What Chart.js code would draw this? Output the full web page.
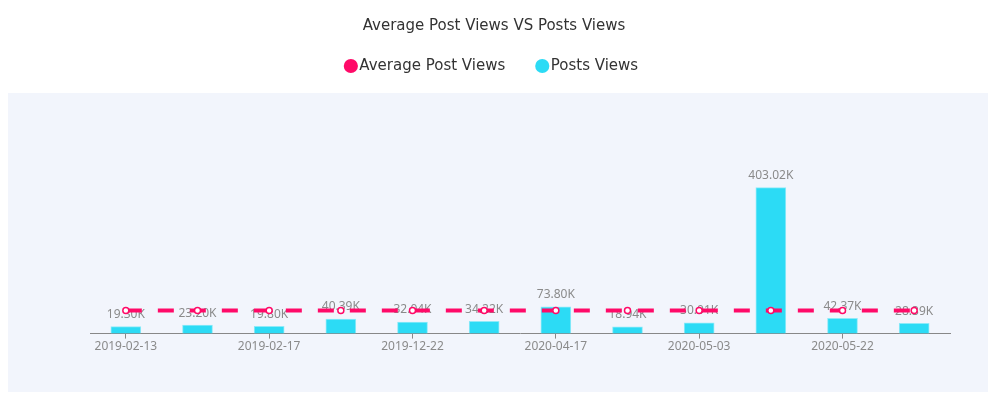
<!DOCTYPE html>
<html>
<head>
<meta charset="utf-8">
<script src="https://cdn.jsdelivr.net/npm/chart.js@4/dist/chart.umd.min.js"></script>
<style>
  body { margin: 0; background: #fff; }
  #wrap { position: relative; width: 996px; height: 398px; }
  #panel { position: absolute; left: 8px; top: 93px; width: 980px; height: 299px; background: #f2f5fc; }
  #myChart { position: absolute; left: 0; top: 0; }
</style>
</head>
<body>
<div id="wrap">
  <div id="panel"></div>
  <canvas id="myChart" width="996" height="398"></canvas>
</div>
<script>
// data
var dates = ['2019-02-13', '2019-02-14', '2019-02-17', '2019-02-25', '2019-12-22', '2020-01-05',
             '2020-04-17', '2020-04-26', '2020-05-03', '2020-05-10', '2020-05-22', '2020-05-28'];
var postViews = [19300, 23200, 19800, 40390, 32040, 34220, 73800, 18940, 30010, 403020, 42370, 28390];
var avgViews = [63790, 63790, 63790, 63790, 63790, 63790, 63790, 63790, 63790, 63790, 63790, 63790];

var pink = '#ff0a68';
var cyan = '#2cdbf5';

// value labels above the bars
var barLabels = {
  id: 'barLabels',
  afterDatasetDraw: function(chart, args) {
    if (args.index !== 1) return;
    var ctx = chart.ctx;
    ctx.save();
    ctx.font = '12px "Noto Sans"';
    ctx.fillStyle = '#8a8a8a';
    ctx.textAlign = 'center';
    ctx.textBaseline = 'middle';
    args.meta.data.forEach(function(bar, i) {
      ctx.fillText((postViews[i] / 1000).toFixed(2) + 'K', bar.x, bar.y - 12);
    });
    ctx.restore();
  }
};

// invisible axes only used to hold the plot margins
var hiddenAxis = {
  display: true,
  ticks: { display: false },
  grid: { display: false },
  border: { display: false }
};

document.addEventListener('DOMContentLoaded', function() {
  var ctx = document.getElementById('myChart').getContext('2d');
  new Chart(ctx, {
    type: 'bar',
    data: {
      labels: dates,
      datasets: [{
        type: 'line',
        label: 'Average Post Views',
        data: avgViews,
        borderColor: pink,
        backgroundColor: pink,
        borderWidth: 4,
        borderDash: [16, 16],
        pointRadius: 3,
        pointBackgroundColor: '#fff',
        pointBorderColor: pink,
        pointBorderWidth: 1.5,
        fill: false
      }, {
        label: 'Posts Views',
        data: postViews,
        backgroundColor: cyan,
        borderColor: '#8eeaf8',
        borderWidth: 1,
        barThickness: 30
      }]
    },
    plugins: [barLabels],
    options: {
      responsive: false,
      animation: false,
      layout: { padding: { left: 0, right: 8, bottom: 43 } },
      plugins: {
        title: {
          display: true,
          text: 'Average Post Views VS Posts Views',
          color: '#333',
          font: { family: 'DejaVu Sans', size: 15, weight: 'normal' },
          padding: { top: 17, bottom: -12.5 }
        },
        legend: {
          labels: {
            usePointStyle: true,
            pointStyle: 'circle',
            boxHeight: 10,
            boxWidth: 2,
            padding: 36,
            color: '#333',
            font: { family: 'DejaVu Sans', size: 15 },
            generateLabels: function(chart) {
              var items = Chart.defaults.plugins.legend.labels.generateLabels(chart);
              items.forEach(function(it) {
                var c = it.datasetIndex === 0 ? pink : cyan;
                it.fillStyle = c;
                it.strokeStyle = c;
                it.lineWidth = 0;
                it.lineDash = [];
              });
              return items;
            }
          }
        },
        tooltip: { enabled: false }
      },
      scales: {
        x: {
          grid: { display: true, drawOnChartArea: false, offset: false, tickLength: 5, color: '#888' },
          border: { display: true, color: '#888' },
          ticks: {
            autoSkip: false,
            maxRotation: 0,
            padding: 1,
            color: '#8a8a8a',
            font: { family: 'Noto Sans', size: 12 },
            callback: function(v, i) { return i % 2 === 0 ? dates[i] : null; }
          }
        },
        y: Object.assign({}, hiddenAxis, {
          min: 0,
          max: 690600,
          afterFit: function(s) { s.width = 90; }
        }),
        y2: Object.assign({}, hiddenAxis, {
          position: 'right',
          afterFit: function(s) { s.width = 38; }
        })
      }
    }
  });
});
</script>
</body>
</html>
